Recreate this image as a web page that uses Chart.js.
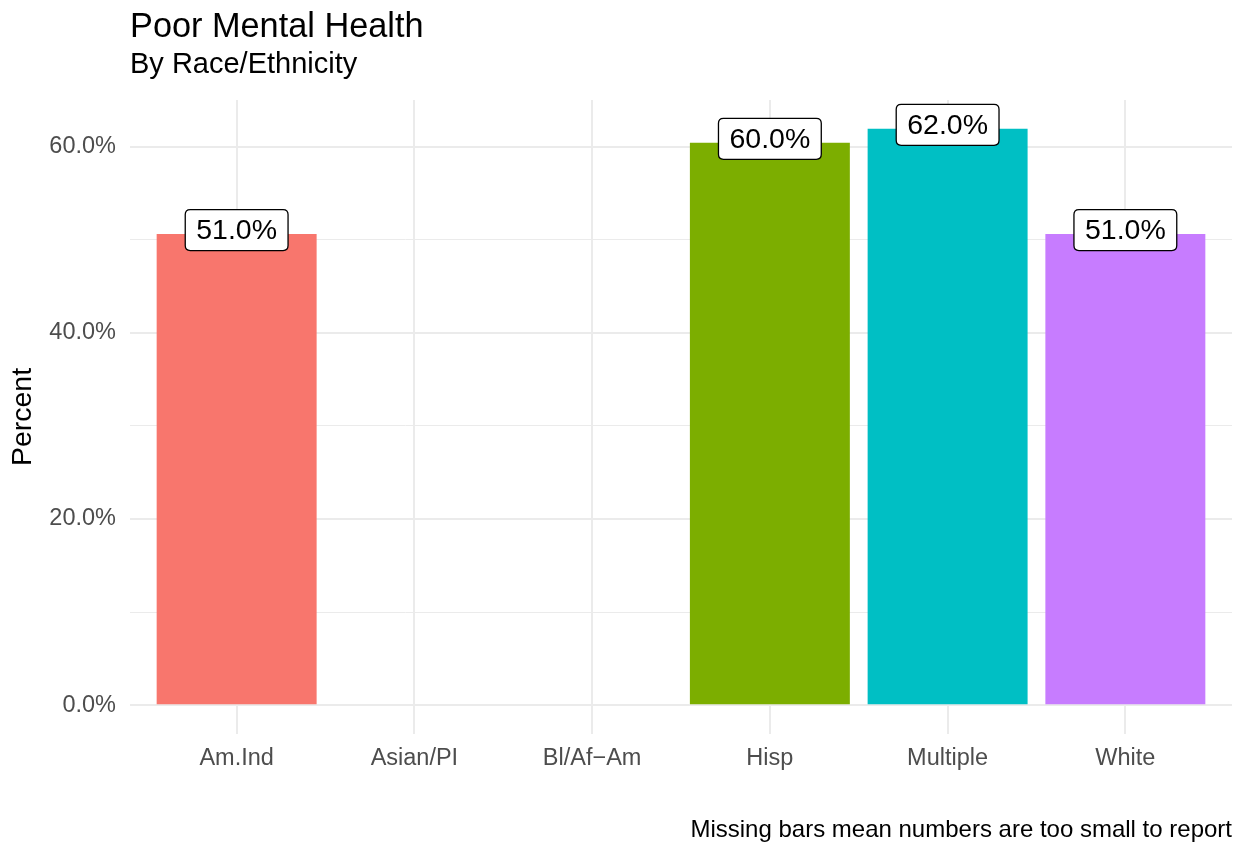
<!DOCTYPE html>
<html>
<head>
<meta charset="utf-8">
<script src="https://cdn.jsdelivr.net/npm/chart.js@4/dist/chart.umd.min.js"></script>
<style>
  html, body { margin: 0; padding: 0; background: #ffffff; }
  #wrap { width: 1236px; height: 844px; }
</style>
</head>
<body>
<div id="wrap"><canvas id="c" width="1236" height="844"></canvas></div>
<script>
// ---- Data ----
const categories = ['Am.Ind', 'Asian/PI', 'Bl/Af\u2212Am', 'Hisp', 'Multiple', 'White'];
const values = [50.6, null, null, 60.4, 61.9, 50.6];
const barColors = ['#F8766D', '#FFFFFF', '#FFFFFF', '#7CAE00', '#00BFC4', '#C77CFF'];
const yTicks = [0, 10, 20, 30, 40, 50, 60];
const yTickLabels = ['0.0%', '', '20.0%', '', '40.0%', '', '60.0%'];
const titleText = 'Poor Mental Health';
const subtitleText = 'By Race/Ethnicity';
const yTitleText = 'Percent';
const captionText = 'Missing bars mean numbers are too small to report';

const FONT = '"Liberation Sans", Arial, Helvetica, sans-serif';
Chart.defaults.font.family = FONT;

const maxVal = Math.max(...values.filter(v => v !== null));
const yMin = -maxVal * 0.05;
const yMax = maxVal * 1.05;

const dataPoints = categories.map((c, i) => ({ x: i + 1, y: values[i] }));

const textPlugin = {
  id: 'texts',
  afterDraw(chart) {
    const ctx = chart.ctx;
    const a = chart.chartArea;
    ctx.save();
    ctx.fillStyle = '#000000';
    ctx.textAlign = 'left';
    ctx.textBaseline = 'alphabetic';
    ctx.font = '34.3px ' + FONT;
    ctx.fillText(titleText, a.left, 37);
    ctx.font = '29px ' + FONT;
    ctx.fillText(subtitleText, a.left, 73);
    ctx.font = '24px ' + FONT;
    ctx.textAlign = 'right';
    ctx.fillText(captionText, a.right, 837);
    ctx.restore();
  }
};

const labelPlugin = {
  id: 'barLabels',
  afterDatasetsDraw(chart) {
    const ctx = chart.ctx;
    const meta = chart.getDatasetMeta(0);
    ctx.save();
    ctx.font = '28.5px ' + FONT;
    ctx.textAlign = 'center';
    ctx.textBaseline = 'middle';
    meta.data.forEach((bar, i) => {
      const v = values[i];
      if (v === null || v === undefined) return;
      const txt = Math.round(v).toFixed(1) + '%';
      const w = ctx.measureText(txt).width + 22;
      const h = 41;
      const cx = bar.x;
      const cy = bar.y - 4;
      const x0 = cx - w / 2, y0 = cy - h / 2, r = 5;
      ctx.beginPath();
      ctx.moveTo(x0 + r, y0);
      ctx.lineTo(x0 + w - r, y0);
      ctx.quadraticCurveTo(x0 + w, y0, x0 + w, y0 + r);
      ctx.lineTo(x0 + w, y0 + h - r);
      ctx.quadraticCurveTo(x0 + w, y0 + h, x0 + w - r, y0 + h);
      ctx.lineTo(x0 + r, y0 + h);
      ctx.quadraticCurveTo(x0, y0 + h, x0, y0 + h - r);
      ctx.lineTo(x0, y0 + r);
      ctx.quadraticCurveTo(x0, y0, x0 + r, y0);
      ctx.closePath();
      ctx.fillStyle = '#FFFFFF';
      ctx.fill();
      ctx.lineWidth = 1.3;
      ctx.strokeStyle = '#000000';
      ctx.stroke();
      ctx.fillStyle = '#000000';
      ctx.fillText(txt, cx, cy + 1);
    });
    ctx.restore();
  }
};

new Chart(document.getElementById('c'), {
  type: 'bar',
  data: {
    datasets: [{
      data: dataPoints,
      backgroundColor: barColors,
      borderWidth: 0,
      barPercentage: 0.9,
      categoryPercentage: 1.0
    }]
  },
  options: {
    responsive: false,
    animation: false,
    layout: { padding: { top: 100, right: 4, bottom: 0, left: 0 } },
    plugins: {
      legend: { display: false },
      tooltip: { enabled: false },
      title: { display: false }
    },
    scales: {
      x: {
        type: 'linear',
        min: 0.4,
        max: categories.length + 0.6,
        offset: false,
        afterBuildTicks: s => { s.ticks = categories.map((c, i) => ({ value: i + 1 })); },
        afterFit: s => { s.height = 110; },
        ticks: {
          autoSkip: false,
          maxRotation: 0,
          padding: 10,
          color: '#4D4D4D',
          font: { size: 23.5 },
          callback: v => categories[Math.round(v) - 1]
        },
        grid: { color: '#EBEBEB', lineWidth: 2, drawTicks: false, offset: false },
        border: { display: false }
      },
      y: {
        min: yMin,
        max: yMax,
        afterBuildTicks: s => { s.ticks = yTicks.map(v => ({ value: v })); },
        afterFit: s => { s.width = 130; },
        ticks: {
          autoSkip: false,
          padding: 14,
          color: '#4D4D4D',
          font: { size: 23.5 },
          callback: (v) => yTickLabels[yTicks.indexOf(v)]
        },
        grid: {
          color: '#EBEBEB',
          lineWidth: ctx => (ctx.tick && yTickLabels[yTicks.indexOf(ctx.tick.value)] !== '' ? 2 : 1),
          drawTicks: false
        },
        border: { display: false },
        title: {
          display: true,
          text: yTitleText,
          color: '#000000',
          font: { size: 28.5 },
          padding: { top: 6, bottom: 0 }
        }
      }
    }
  },
  plugins: [textPlugin, labelPlugin]
});
</script>
</body>
</html>
